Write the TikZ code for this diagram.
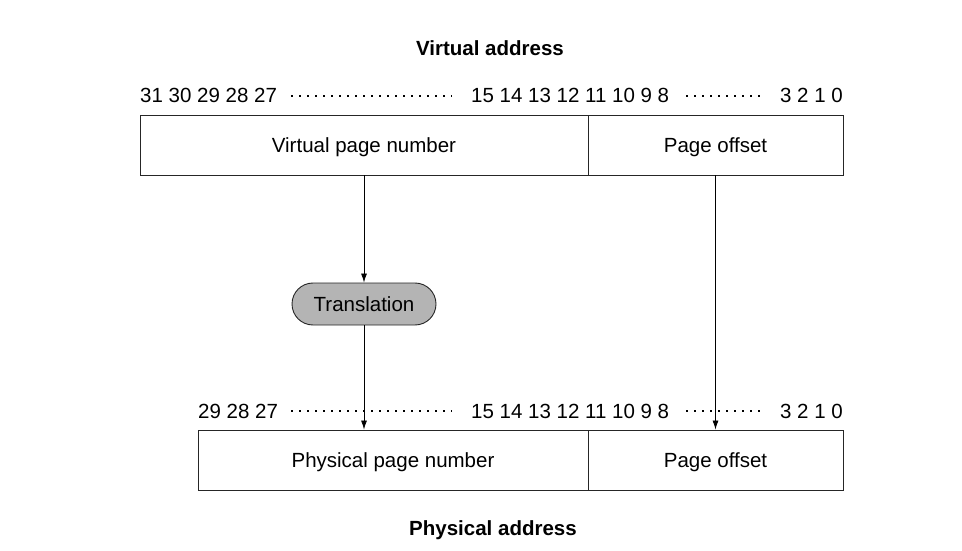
\documentclass[tikz,border=0pt]{standalone}
\usepackage{fontspec}
\setmainfont{Liberation Sans}
\usetikzlibrary{positioning,arrows.meta,calc}
\definecolor{transgray}{RGB}{180,180,180}

\begin{document}
\begin{tikzpicture}[x=1pt,y=1pt,
	font=\fontsize{20.5}{24}\selectfont,
	field/.style={draw=black!85, line width=0.9pt, minimum height=60pt, inner sep=0pt, text depth=0pt, anchor=center},
	bits/.style={inner sep=0pt, anchor=base west},
	gap/.style={line width=1.7pt, dash pattern=on 1.7pt off 6.3pt},
	flow/.style={line width=0.8pt, -{Latex[length=9pt,width=6pt]}}]
	\useasboundingbox (0,0) rectangle (962,550);

	% virtual address
	\node[font=\fontsize{20.5}{24}\selectfont\bfseries] (vtitle) at (490,502) {Virtual address};
	\node[bits] (vhigh) at (140,447) {31 30 29 28 27};
	\node[bits] (vmid) at (471,447) {15 14 13 12 11 10 9 8};
	\node[bits, anchor=base east] (vlow) at (843,447) {3 2 1 0};
	\draw[gap] (291,454) -- (452,454);
	\draw[gap] (686,454) -- (765,454);

	\node[field, minimum width=448pt] (vpn) at (364,405) {Virtual page number};
	\node[field, minimum width=255pt] (vpo) at (715.5,405) {Page offset};

	% translation
	\node[draw=black!85, line width=0.9pt, fill=transgray, rounded corners=21pt, text depth=0pt,
		minimum width=144pt, minimum height=42pt, inner sep=0pt] (trans) at (364,246) {Translation};

	% physical address
	\node[bits] (phigh) at (198,132) {29 28 27};
	\node[bits] (pmid) at (471,132) {15 14 13 12 11 10 9 8};
	\node[bits, anchor=base east] (plow) at (843,132) {3 2 1 0};
	\draw[gap] (291,139) -- (452,139);
	\draw[gap] (686,139) -- (765,139);

	\node[field, minimum width=390pt] (ppn) at (393,90) {Physical page number};
	\node[field, minimum width=255pt] (ppo) at (715.5,90) {Page offset};
	\node[font=\fontsize{20.5}{24}\selectfont\bfseries] (ptitle) at (493,20) {Physical address};

	\draw[flow] (vpn.south) -- (trans.north);
	\draw[flow] (trans.south) -- (trans.south |- ppn.north);
	\draw[flow] (vpo.south) -- (ppo.north);

\end{tikzpicture}
\end{document}
